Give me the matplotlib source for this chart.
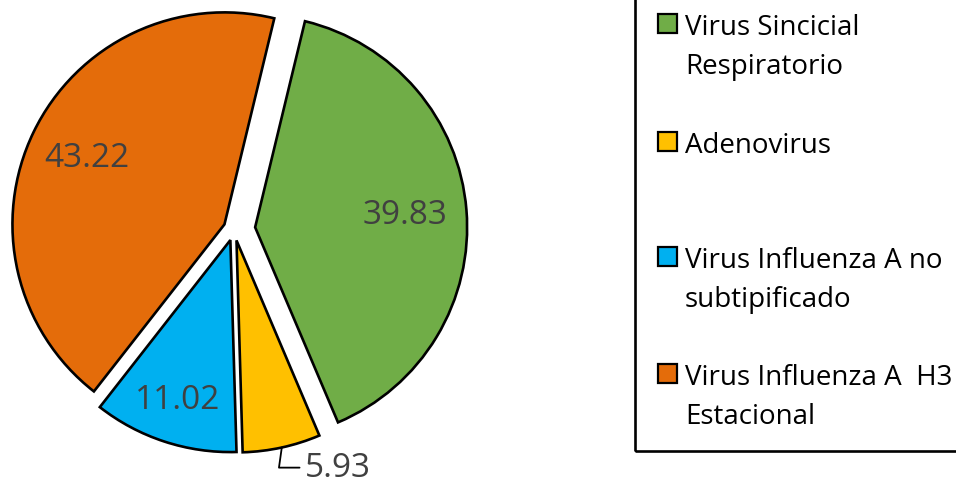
import numpy as np
import matplotlib
matplotlib.use('Agg')
import matplotlib.pyplot as plt
from matplotlib.patches import Rectangle

plt.rcParams['font.family'] = ['Open Sans', 'DejaVu Sans']

labels = ['Virus Sincicial\nRespiratorio', 'Adenovirus',
          'Virus Influenza A no\nsubtipificado', 'Virus Influenza A  H3\nEstacional']
values = [39.83, 5.93, 11.02, 43.22]
colors = ['#70AD47', '#FFC000', '#00B0F0', '#E46C0A']
explode = [0.1, 0.055, 0.055, 0.05]
label_r = [0.71, None, 0.79, 0.72]
text_color = '#404040'

W, H = 956, 485
fig = plt.figure(figsize=(W / 100, H / 100), dpi=100)

# pie axes, placed in pixels so that radius is ~212 px
R = 212
cx, cy = 234, 230
half = 240
ax = fig.add_axes([(cx - half) / W, (H - cy - half) / H, 2 * half / W, 2 * half / H])

wedges, _ = ax.pie(values, colors=colors, startangle=76.4, counterclock=False,
                   explode=explode, radius=1,
                   wedgeprops=dict(edgecolor='black', linewidth=1.9))
ax.set_xlim(-half / R, half / R)
ax.set_ylim(-half / R, half / R)
ax.set_aspect('equal')
ax.axis('off')

for w, v, lr in zip(wedges, values, label_r):
    mid = np.deg2rad((w.theta1 + w.theta2) / 2)
    c = np.array(w.center)
    d = np.array([np.cos(mid), np.sin(mid)])
    if lr is not None:
        x, y = c + lr * d
        ax.text(x, y, f'{v:.2f}', ha='center', va='center',
                fontsize=24, color=text_color)
    else:
        # small slice: label outside with an elbow leader
        xy = c + 1.0 * d
        ax.annotate(f'{v:.2f}', xy=xy, xytext=(xy[0] + 0.11, xy[1] - 0.095),
                    ha='left', va='center', fontsize=24, color=text_color,
                    arrowprops=dict(arrowstyle='-', color='black', lw=1.3,
                                    connectionstyle='angle,angleA=0,angleB=82',
                                    shrinkA=2, shrinkB=0))

# legend drawn by hand, Excel style
fig.patches.append(Rectangle((635 / W, (H - 452) / H), 0.5, 1.0,
                             transform=fig.transFigure, fill=False,
                             edgecolor='black', linewidth=1.9, clip_on=False))
first_base = [35, 153, 268, 385]
for lab, col, yb in zip(labels, colors, first_base):
    fig.patches.append(Rectangle((658 / W, (H - yb + 1) / H), 19 / W, 19 / H,
                                 transform=fig.transFigure, facecolor=col,
                                 edgecolor='black', linewidth=1.6))
    for i, line in enumerate(lab.split('\n')):
        fig.text(685 / W, (H - yb - 39 * i) / H, line, ha='left', va='baseline',
                 fontsize=20, color='black')

fig.savefig('out.png', dpi=100)
